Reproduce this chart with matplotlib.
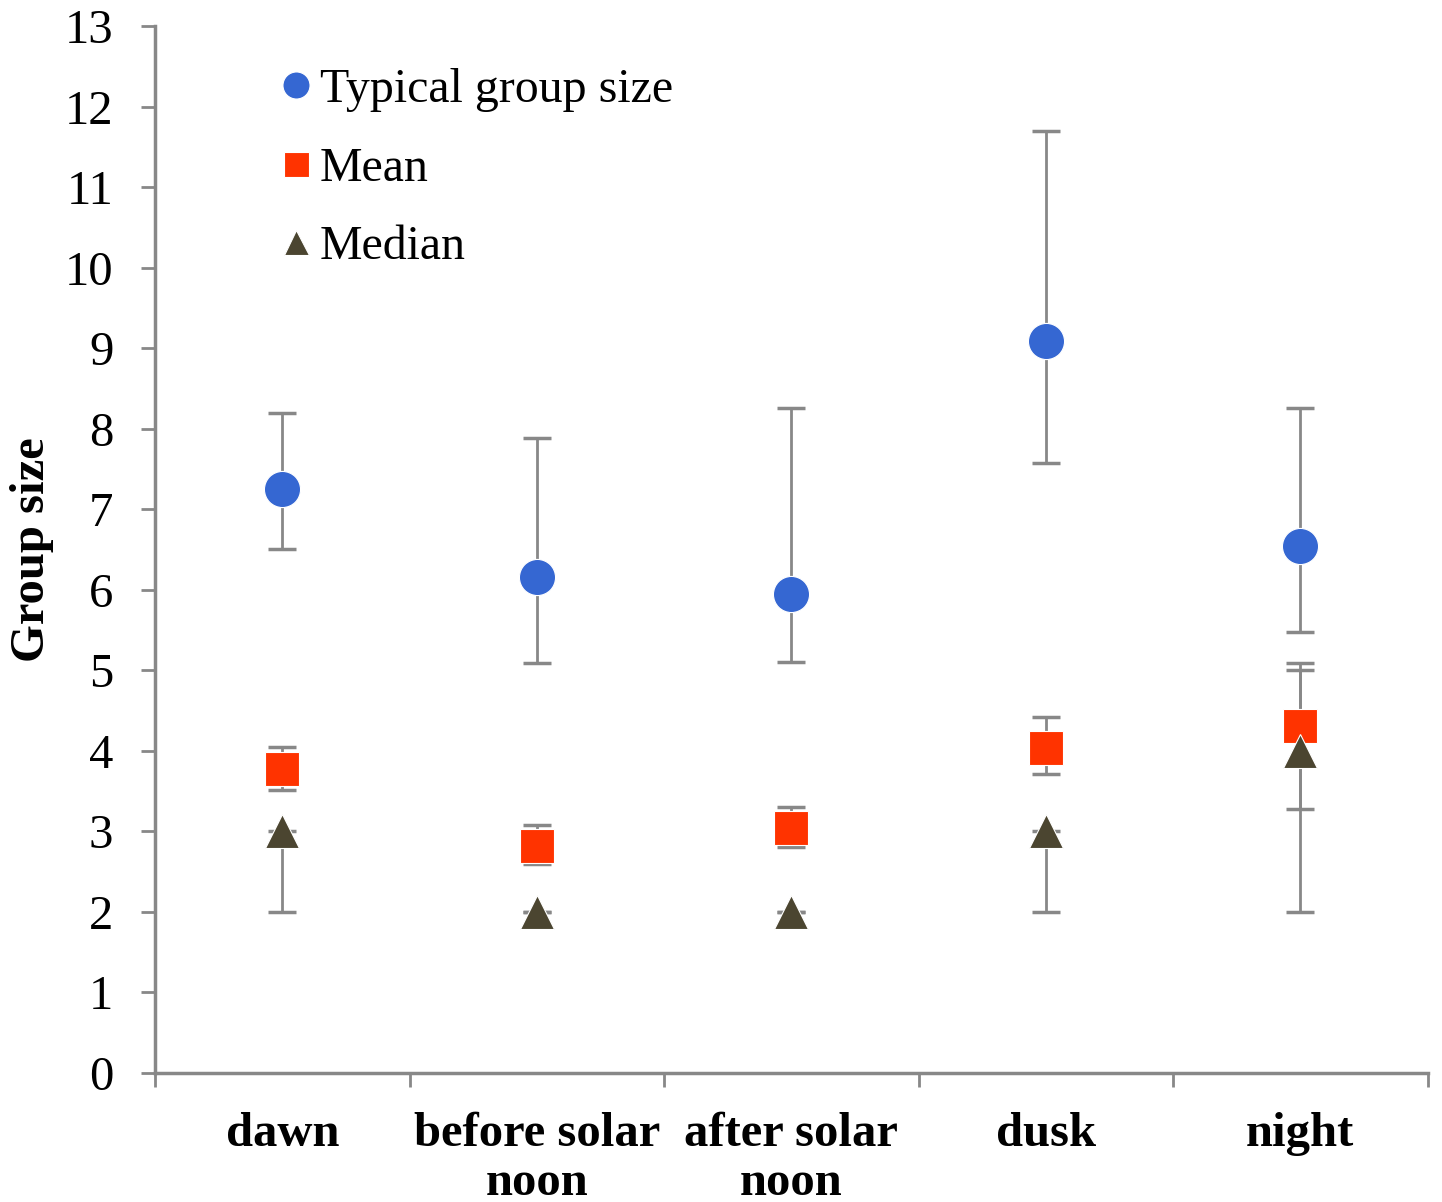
import matplotlib.pyplot as plt

categories = ['dawn', 'before solar\nnoon', 'after solar\nnoon', 'dusk', 'night']

typical = [7.25, 6.16, 5.95, 9.09, 6.54]
typical_hi = [8.19, 7.88, 8.26, 11.70, 8.26]
typical_lo = [6.51, 5.09, 5.10, 7.57, 5.48]

mean = [3.77, 2.82, 3.04, 4.04, 4.31]
mean_hi = [4.05, 3.08, 3.30, 4.42, 5.09]
mean_lo = [3.51, 2.59, 2.81, 3.71, 3.28]

median = [3, 2, 2, 3, 4]
median_hi = [3, 2, 2, 3, 5]
median_lo = [2, 2, 2, 2, 2]

plt.rcParams['font.family'] = ['Liberation Serif', 'DejaVu Serif']

fig = plt.figure(figsize=(14.42, 12.02), dpi=100)
ax = fig.add_axes([0.1075, 0.1073, 0.8825, 0.8711])

x = list(range(1, len(categories) + 1))
grey = '#888888'


def bars(vals, hi, lo):
    err = [[v - l for v, l in zip(vals, lo)], [h - v for v, h in zip(vals, hi)]]
    ax.errorbar(x, vals, yerr=err, fmt='none', ecolor=grey, elinewidth=2,
                capsize=10, capthick=2.5, zorder=2)


bars(typical, typical_hi, typical_lo)
bars(mean, mean_hi, mean_lo)
bars(median, median_hi, median_lo)

ax.plot(x, typical, 'o', color='#3567D2', markersize=26, mec='white', mew=0.8,
        zorder=3, label='Typical group size')
ax.plot(x, mean, 's', color='#FF3300', markersize=24, mec='white', mew=0.8,
        zorder=4, label='Mean')
ax.plot(x, median, '^', color='#4B4530', markersize=24, mec='white', mew=0.8,
        zorder=5, label='Median')

ax.set_xlim(0.5, len(categories) + 0.5)
ax.set_ylim(0, 13)
ax.set_yticks(range(0, 14))
ax.tick_params(axis='y', labelsize=35, length=10, width=2, color=grey, pad=20)

ax.set_xticks([i + 0.5 for i in range(0, len(categories) + 1)])
ax.set_xticklabels([])
ax.set_xticks(x, minor=True)
ax.set_xticklabels(categories, minor=True, fontsize=35, fontweight='bold')
ax.tick_params(axis='x', which='major', length=10, width=2, color=grey)
ax.tick_params(axis='x', which='minor', length=0, pad=28)
for lbl in ax.get_xticklabels(minor=True):
    lbl.set_linespacing(1.15)

for s in ['top', 'right']:
    ax.spines[s].set_visible(False)
for s in ['left', 'bottom']:
    ax.spines[s].set_color(grey)
    ax.spines[s].set_linewidth(2.5)

ax.set_ylabel('Group size', fontsize=35, fontweight='bold', labelpad=8)

leg = ax.legend(loc='upper left', bbox_to_anchor=(0.073, 0.978), frameon=False,
                fontsize=34.5, handletextpad=-0.1, labelspacing=0.72,
                markerscale=0.75, handlelength=1.2, borderaxespad=0)

fig.savefig('out.png', dpi=100)
